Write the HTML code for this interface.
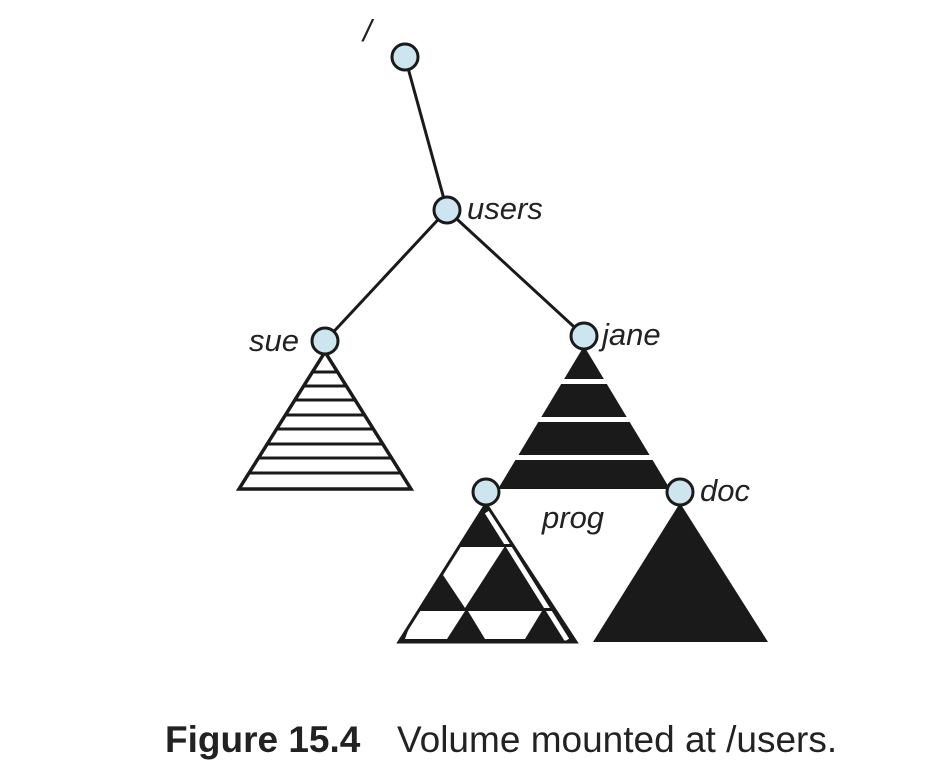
<!DOCTYPE html>
<html><head><meta charset="utf-8"><style>
html,body{margin:0;padding:0;background:#fff;width:948px;height:776px;overflow:hidden}
svg text{font-family:"Liberation Sans",sans-serif;fill:#222}
</style></head><body>
<svg width="948" height="776" viewBox="0 0 948 776">
<defs>
<clipPath id="sueClip"><polygon points="325,352 239,489 411,489"/></clipPath>
<clipPath id="progClip"><polygon points="486,504 399,642 576,642"/></clipPath>
</defs>
<g stroke="#1a1a1a" stroke-width="3" fill="none">
<line x1="405" y1="57" x2="447" y2="210"/>
<line x1="447" y1="210" x2="325" y2="341"/>
<line x1="447" y1="210" x2="584" y2="336"/>
</g>
<g>
<polygon points="325,352 239,489 411,489" fill="#fff"/>
<g stroke="#1a1a1a" stroke-width="3" clip-path="url(#sueClip)">
<line x1="230" y1="372" x2="420" y2="372"/>
<line x1="230" y1="386" x2="420" y2="386"/>
<line x1="230" y1="400" x2="420" y2="400"/>
<line x1="230" y1="415" x2="420" y2="415"/>
<line x1="230" y1="429" x2="420" y2="429"/>
<line x1="230" y1="444" x2="420" y2="444"/>
<line x1="230" y1="458" x2="420" y2="458"/>
<line x1="230" y1="473" x2="420" y2="473"/>
</g>
<polygon points="325,352 239,489 411,489" fill="none" stroke="#1a1a1a" stroke-width="3.5"/>
</g>
<g>
<polygon points="584,346 498,489 670,489" fill="#1a1a1a"/>
<g fill="#fff">
<rect x="500" y="379" width="170" height="5"/>
<rect x="480" y="417" width="210" height="5"/>
<rect x="470" y="455" width="230" height="5"/>
</g></g>
<g>
<polygon points="486,504 399,642 576,642" fill="#1a1a1a"/>
<g clip-path="url(#progClip)">
<line x1="487" y1="512" x2="567" y2="640" stroke="#fff" stroke-width="5"/>
<g fill="#fff">
<polygon points="460,546 505,546 465,608 443,575"/>
<polygon points="415,611 465,611 447,639 405,639"/>
<polygon points="468,611 542,611 525,639 485,639"/>
</g>
<rect x="390" y="544" width="200" height="3" fill="#1a1a1a"/>
<rect x="390" y="608" width="200" height="3" fill="#1a1a1a"/>
</g>
<polygon points="486,504 399,642 576,642" fill="none" stroke="#1a1a1a" stroke-width="3"/>
</g>
<polygon points="680,503 593,642 768,642" fill="#1a1a1a"/>
<g fill="#cde5ef" stroke="#1a1a1a" stroke-width="3">
<circle cx="405" cy="57" r="13"/>
<circle cx="447" cy="210" r="13"/>
<circle cx="325" cy="341" r="13"/>
<circle cx="584" cy="336" r="13"/>
<circle cx="486" cy="492" r="13"/>
<circle cx="680" cy="492" r="13"/>
</g>
<g font-style="italic" font-size="31">
<text x="363" y="41">/</text>
<text x="467" y="219">users</text>
<text x="299" y="351" text-anchor="end">sue</text>
<text x="602" y="345">jane</text>
<text x="542" y="528">prog</text>
<text x="700" y="501">doc</text>
</g>
<text x="165" y="752" font-size="37"><tspan font-weight="bold">Figure 15.4</tspan><tspan x="397">Volume mounted at /users.</tspan></text>
</svg>
</body></html>
